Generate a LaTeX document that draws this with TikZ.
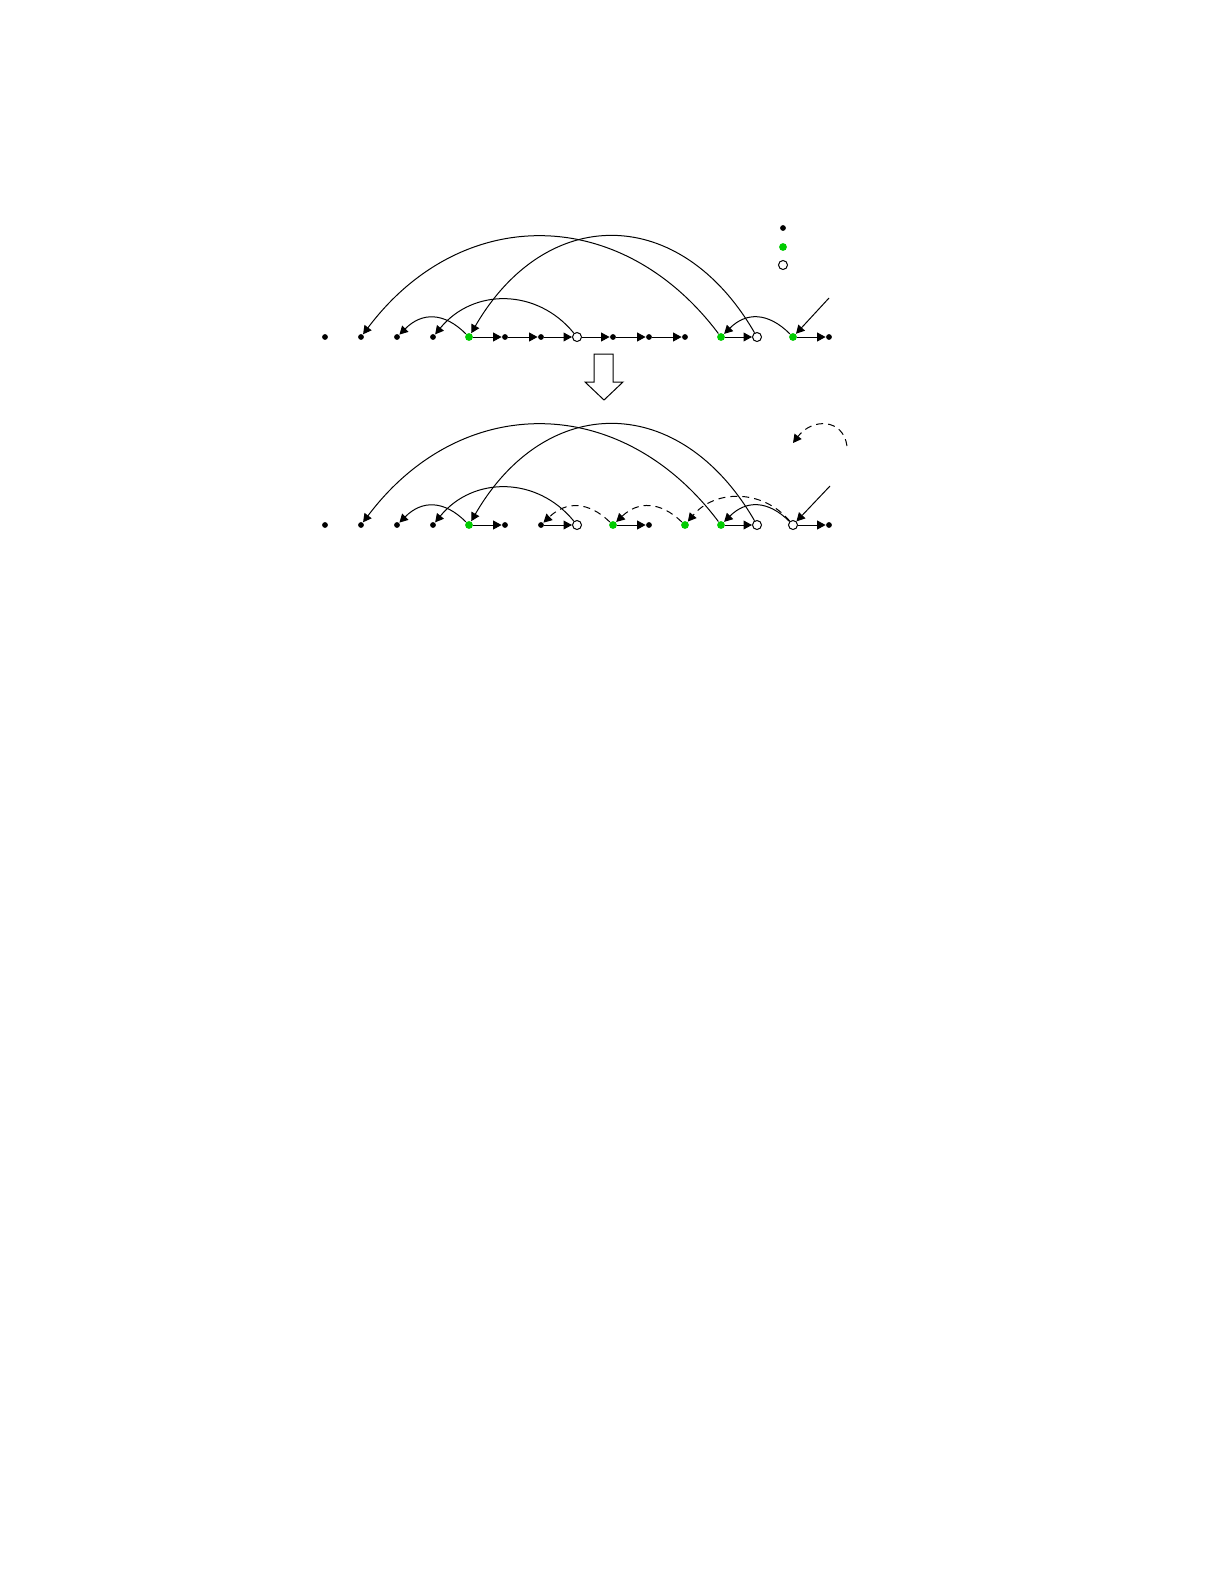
\documentclass[tikz,border=0pt]{standalone}
\usepackage{amsmath}
\usetikzlibrary{arrows.meta}

\definecolor{dotgreen}{RGB}{0,204,0}

\begin{document}
\begin{tikzpicture}[
                x = 0.5pt, y = -0.5pt,
                line width = 0.5pt,
                > = {Triangle[length=4.2pt, width=4.4pt]},
                blk/.style={ circle, fill = black, inner sep = 0pt, minimum size = 2.9pt },
                grn/.style={ circle, fill = dotgreen, inner sep = 0pt, minimum size = 3.9pt },
                hol/.style={ circle, draw = black, fill = white, line width = 0.5pt, inner sep = 0pt, minimum size = 4.5pt },
                newlink/.style={ ->, dash pattern = on 3.5pt off 2.5pt }
            ]
            \useasboundingbox (0, 0) rectangle (1225, 1585);

            % legend
            \node (L1) [blk] at (783, 228) {};
            \node (L2) [grn] at (783, 247) {};
            \node (L3) [hol] at (783, 265) {};

            % top row
            \node (t0)  [blk] at (325, 337) {};
            \node (t1)  [blk] at (361, 337) {};
            \node (t2)  [blk] at (397, 337) {};
            \node (t3)  [blk] at (433, 337) {};
            \node (t4)  [grn] at (469, 337) {};
            \node (t5)  [blk] at (505, 337) {};
            \node (t6)  [blk] at (541, 337) {};
            \node (t7)  [hol] at (577, 337) {};
            \node (t8)  [blk] at (613, 337) {};
            \node (t9)  [blk] at (649, 337) {};
            \node (t10) [blk] at (685, 337) {};
            \node (t11) [grn] at (721, 337) {};
            \node (t12) [hol] at (757, 337) {};
            \node (t13) [grn] at (793, 337) {};
            \node (t14) [blk] at (829, 337) {};
            \coordinate (tin) at (829, 298);

            \draw [->] (t4)  -- (t5);
            \draw [->] (t5)  -- (t6);
            \draw [->] (t6)  -- (t7);
            \draw [->] (t7)  -- (t8);
            \draw [->] (t8)  -- (t9);
            \draw [->] (t9)  -- (t10);
            \draw [->] (t11) -- (t12);
            \draw [->] (t13) -- (t14);
            \draw [->] (tin) -- (t13);

            \draw [->] (t11) .. controls +(-100, -133) and +(100, -133) .. (t1);
            \draw [->] (t12) .. controls +(-77, -133) and +(77, -133) .. (t4);
            \draw [->] (t4)  .. controls +(-25, -25) and +(25, -25) .. (t2);
            \draw [->] (t7)  .. controls +(-40, -49) and +(40, -49) .. (t3);
            \draw [->] (t13) .. controls +(-25, -25) and +(25, -25) .. (t11);

            % step arrow
            \draw (594, 354) -- (613, 354) -- (613, 382) -- (623, 382) -- (604, 400)
                  -- (585, 382) -- (594, 382) -- cycle;

            % bottom row
            \node (b0)  [blk] at (325, 525) {};
            \node (b1)  [blk] at (361, 525) {};
            \node (b2)  [blk] at (397, 525) {};
            \node (b3)  [blk] at (433, 525) {};
            \node (b4)  [grn] at (469, 525) {};
            \node (b5)  [blk] at (505, 525) {};
            \node (b6)  [blk] at (541, 525) {};
            \node (b7)  [hol] at (577, 525) {};
            \node (b8)  [grn] at (613, 525) {};
            \node (b9)  [blk] at (649, 525) {};
            \node (b10) [grn] at (685, 525) {};
            \node (b11) [grn] at (721, 525) {};
            \node (b12) [hol] at (757, 525) {};
            \node (b13) [hol] at (793, 525) {};
            \node (b14) [blk] at (829, 525) {};
            \coordinate (bin) at (830, 486);
            \coordinate (ra) at (847, 446);
            \coordinate (rb) at (793, 443);

            \draw [->] (b4)  -- (b5);
            \draw [->] (b6)  -- (b7);
            \draw [->] (b8)  -- (b9);
            \draw [->] (b11) -- (b12);
            \draw [->] (b13) -- (b14);
            \draw [->] (bin) -- (b13);

            \draw [->] (b11) .. controls +(-100, -133) and +(100, -133) .. (b1);
            \draw [->] (b12) .. controls +(-77, -133) and +(77, -133) .. (b4);
            \draw [->] (b4)  .. controls +(-25, -25) and +(25, -25) .. (b2);
            \draw [->] (b7)  .. controls +(-40, -49) and +(40, -49) .. (b3);
            \draw [->] (b13) .. controls +(-25, -25) and +(25, -25) .. (b11);

            \draw [newlink] (b8)  .. controls +(-25, -24) and +(25, -24) .. (b6);
            \draw [newlink] (b10) .. controls +(-25, -24) and +(25, -24) .. (b8);
            \draw [newlink] (b13) .. controls +(-30, -36) and +(30, -36) .. (b10);
            \draw [newlink] (ra)  .. controls (843, 418) and (812, 418) .. (rb);
        \end{tikzpicture}
\end{document}
